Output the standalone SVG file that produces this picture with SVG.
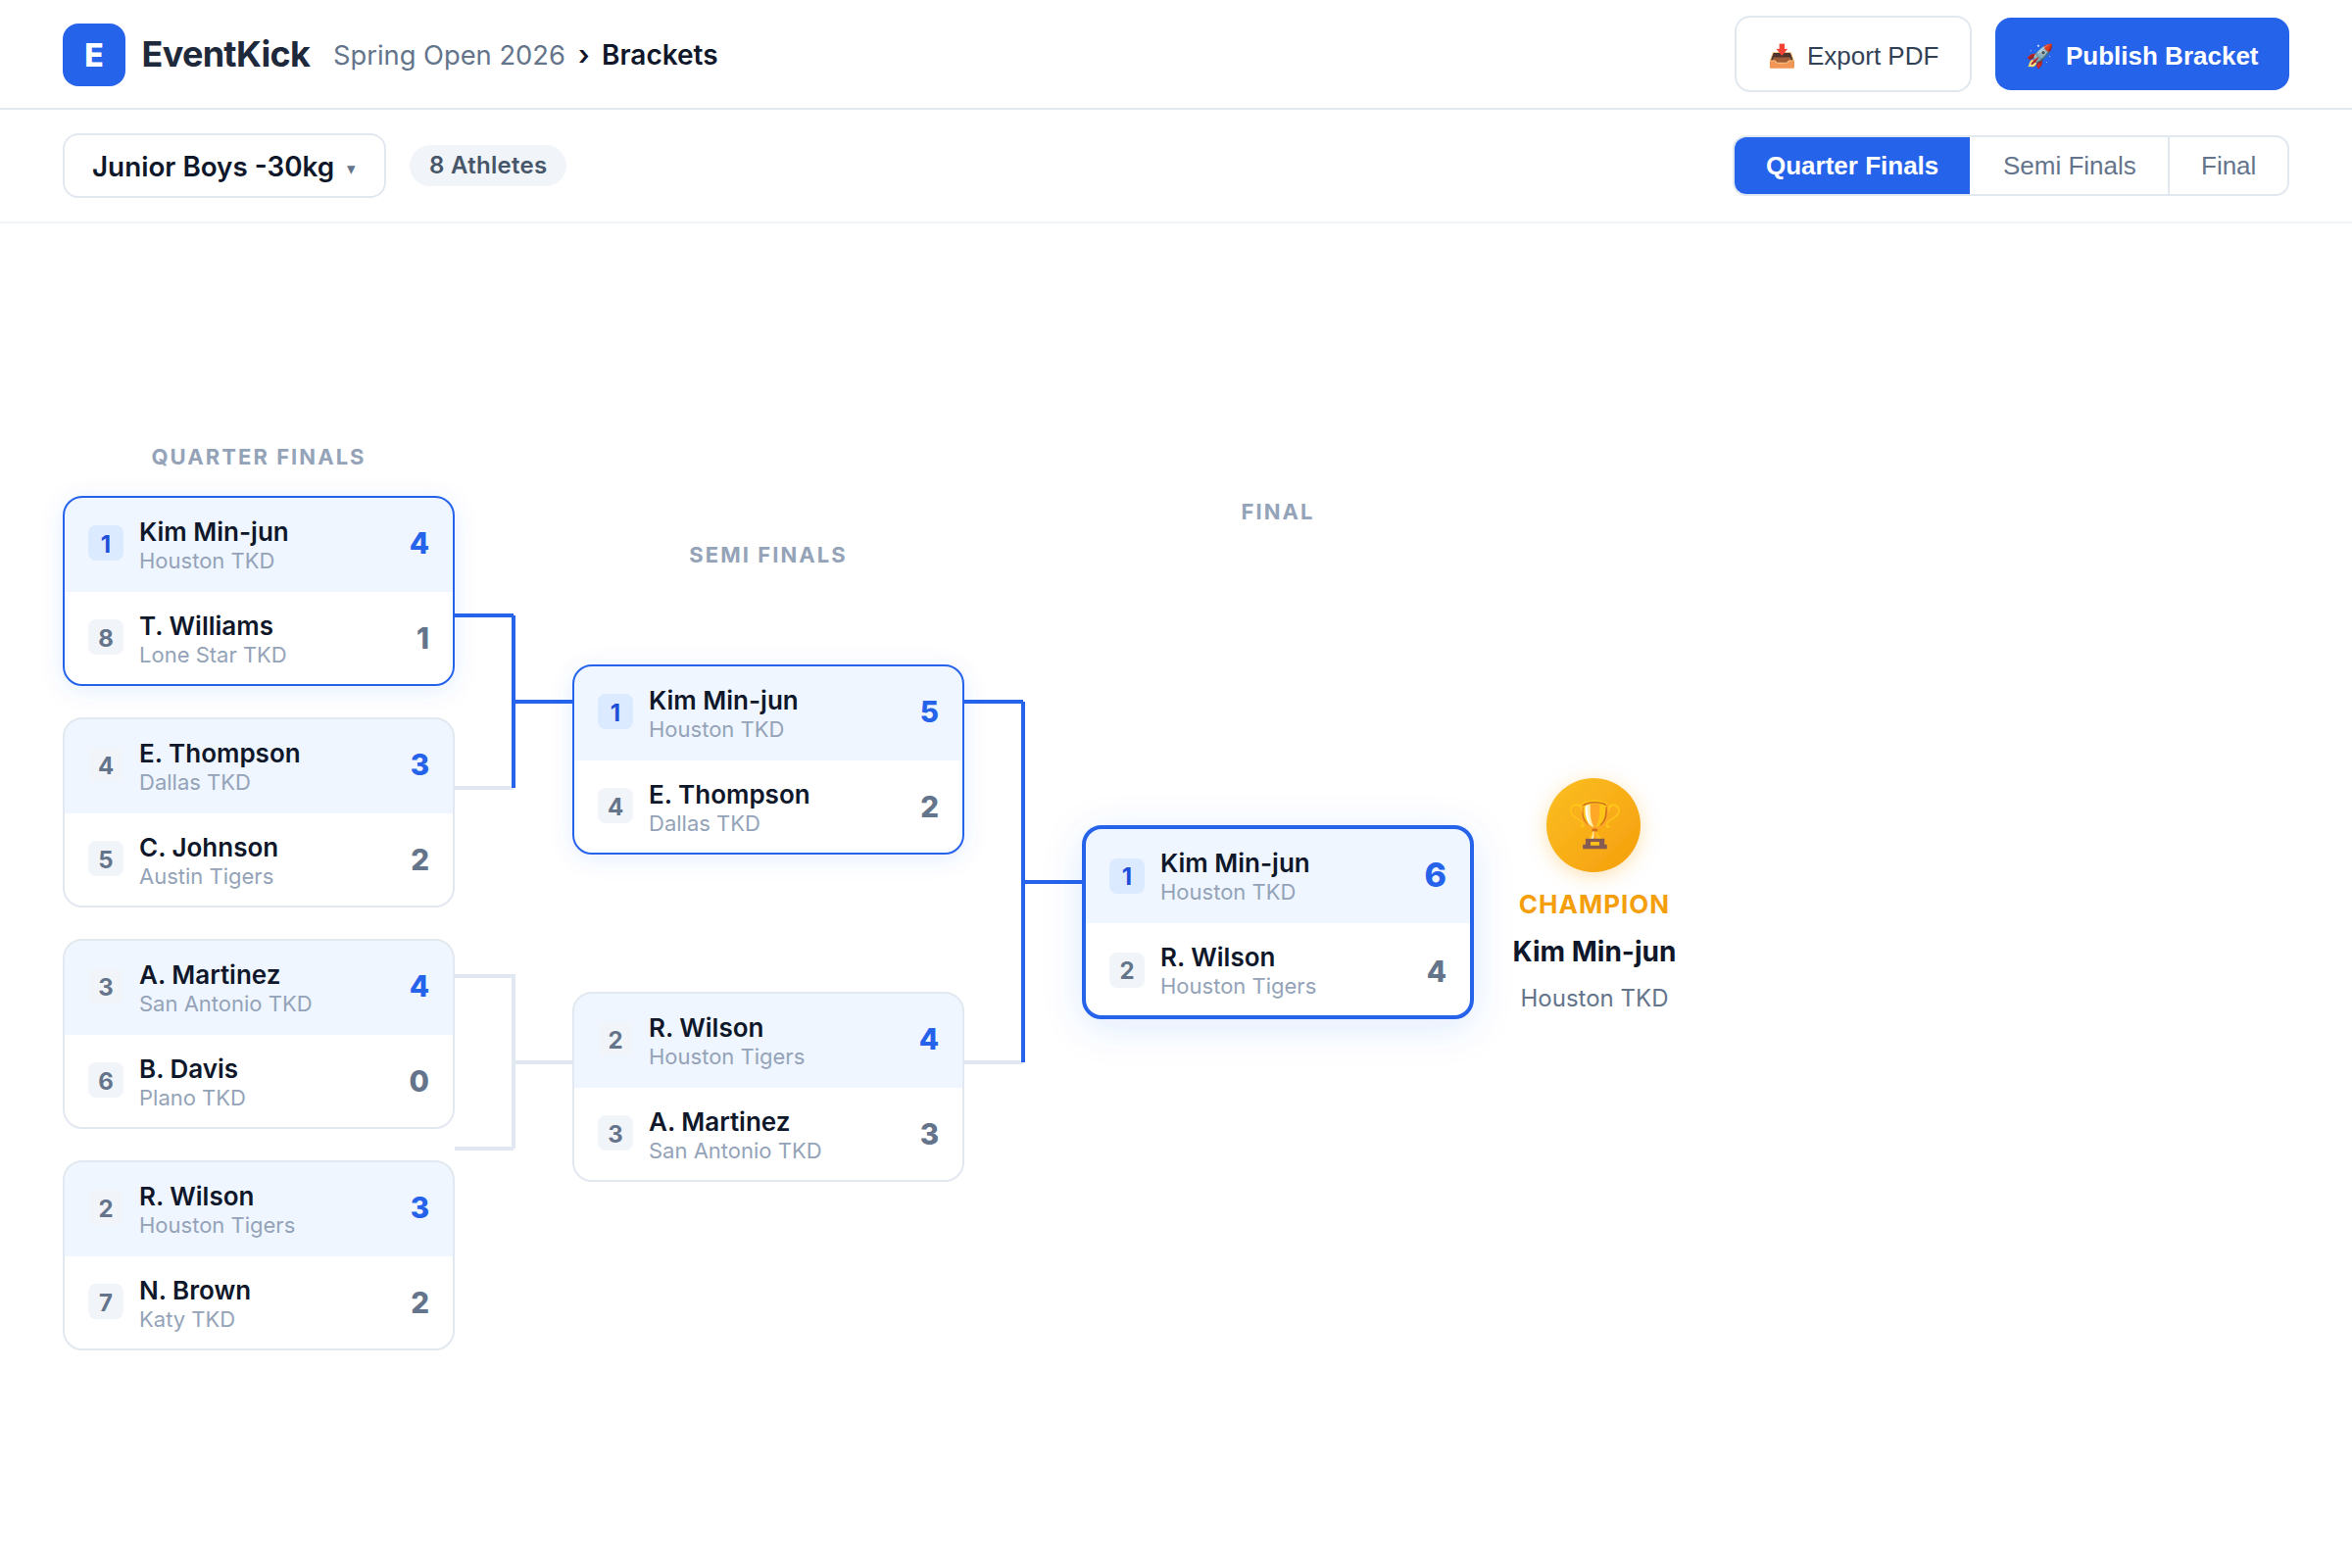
<svg xmlns="http://www.w3.org/2000/svg" width="2400" height="1600" viewBox="0 0 2400 1600">
<style>
text{font-family:"Inter","Liberation Sans",sans-serif}
.btn{font-family:"Liberation Sans",Arial,sans-serif;font-size:26px}
.name{font-size:26px;font-weight:600;fill:#0f172a}
.club{font-size:22px;fill:#94a3b8}
.seed{font-size:24px;font-weight:700;text-anchor:middle;fill:#64748b}
.seed.w{fill:#1d4ed8}
.score{font-size:29.5px;font-weight:800;text-anchor:end;fill:#64748b}
.score.w{fill:#2563eb}
.round{font-size:22px;font-weight:700;letter-spacing:2.05px;text-anchor:middle;fill:#94a3b8}
.bbg{fill:#f1f5f9}
.bbg.w{fill:#dbeafe}
.row1{fill:#eff6ff}
.cardbg{fill:#fff}
.edge{fill:none;stroke:#e2e8f0;stroke-width:2}
.edge.on{stroke:#2563eb}
.edge.fin{stroke:#2563eb;stroke-width:4}
.grey{fill:none;stroke:#e2e8f0;stroke-width:4}
.blue{fill:none;stroke:#2563eb;stroke-width:4}
</style>
<defs>
<filter id="sh" x="-20%" y="-30%" width="140%" height="160%"><feDropShadow dx="0" dy="4" stdDeviation="12" flood-color="#2563eb" flood-opacity="0.12"/></filter>
<filter id="shf" x="-25%" y="-40%" width="150%" height="180%"><feDropShadow dx="0" dy="8" stdDeviation="20" flood-color="#2563eb" flood-opacity="0.15"/></filter>
<filter id="shc" x="-50%" y="-50%" width="200%" height="200%"><feDropShadow dx="0" dy="4" stdDeviation="10" flood-color="#f59e0b" flood-opacity="0.3"/></filter>
<linearGradient id="gold" x1="0" y1="0" x2="1" y2="1"><stop offset="0" stop-color="#fbbf24"/><stop offset="1" stop-color="#f59e0b"/></linearGradient>
</defs>
<rect width="2400" height="1600" fill="#fff"/>

<g id="header">
<rect y="110" width="2400" height="2" fill="#e2e8f0"/>
<rect y="226" width="2400" height="2" fill="#f1f5f9"/>
<rect x="64" y="24" width="64" height="64" rx="16" fill="#2563eb"/>
<text x="96" y="68" font-size="32" font-weight="800" fill="#fff" text-anchor="middle">E</text>
<text x="144.5" y="68" font-size="36" font-weight="700" letter-spacing="-0.7" fill="#1e293b">EventKick</text>
<text x="340" y="66" font-size="27.3" fill="#64748b">Spring Open 2026</text>
<text x="590" y="66" font-size="28" font-weight="600" fill="#0f172a">›</text>
<text x="614" y="66" font-size="28" font-weight="600" fill="#0f172a">Brackets</text>
</g>
<g id="btn-export">
<rect x="1771" y="17" width="240" height="76" rx="15" fill="#fff" stroke="#e2e8f0" stroke-width="2"/>
<text x="1818" y="65" font-size="23" text-anchor="middle">📥</text>
<text class="btn" x="1844" y="66" fill="#334155">Export PDF</text>
</g>
<g id="btn-publish">
<rect x="2036" y="18" width="300" height="74" rx="16" fill="#2563eb"/>
<text x="2081" y="65" font-size="23" text-anchor="middle">🚀</text>
<text class="btn" x="2108" y="66" fill="#fff" font-weight="700">Publish Bracket</text>
</g>
<g id="division-select">
<rect x="65" y="137" width="328" height="64" rx="15" fill="#fff" stroke="#e2e8f0" stroke-width="2"/>
<text x="94" y="180" font-size="27.8" font-weight="600" fill="#0f172a">Junior Boys -30kg</text>
<text x="353.5" y="178" font-size="17" fill="#64748b">▾</text>
</g>
<g id="athlete-count">
<rect x="418" y="148" width="160" height="42" rx="21" fill="#f1f5f9"/>
<text x="438" y="177" font-size="24" font-weight="600" letter-spacing="0.3" fill="#475569">8 Athletes</text>
</g>
<g id="round-tabs">
<rect x="1769" y="139" width="566" height="60" rx="13" fill="#fff" stroke="#e2e8f0" stroke-width="2"/>
<path d="M2010 140H1782a12 12 0 0 0-12 12v34a12 12 0 0 0 12 12H2010z" fill="#2563eb"/>
<rect x="2212" y="140" width="2" height="58" fill="#e2e8f0"/>
<text class="btn" x="1802" y="178" fill="#fff" font-weight="700">Quarter Finals</text>
<text class="btn" x="2044" y="178" fill="#64748b">Semi Finals</text>
<text class="btn" x="2246" y="178" fill="#64748b">Final</text>
</g>

<g id="round-labels">
<text class="round" x="264" y="474">QUARTER FINALS</text>
<text class="round" x="784" y="574">SEMI FINALS</text>
<text class="round" x="1304" y="530">FINAL</text>
</g>

<g id="connectors">
<path class="grey" d="M464 804H524"/>
<path class="blue" d="M464 628H524M524 628V804M526 716H584"/>
<path class="grey" d="M464 996H524V1172M464 1172H524M526 1084H584"/>
<path class="grey" d="M984 1084H1044"/>
<path class="blue" d="M984 716H1044M1044 716V1084M1046 900H1104"/>
</g>

<g id="qf1" transform="translate(64,506)">
<rect x="1" y="1" width="398" height="192" rx="19" class="cardbg" filter="url(#sh)"/>
<path class="row1" d="M2 98V20A18 18 0 0 1 20 2H380A18 18 0 0 1 398 20V98Z"/>
<rect x="1" y="1" width="398" height="192" rx="19" class="edge on"/>
<rect class="bbg w" x="26" y="30" width="36" height="36" rx="8"/><text class="seed w" x="44" y="58">1</text>
<text class="name" x="78" y="46">Kim Min-jun</text><text class="club" x="78" y="74">Houston TKD</text><text class="score w" x="374" y="59">4</text>
<rect class="bbg" x="26" y="126" width="36" height="36" rx="8"/><text class="seed" x="44" y="154">8</text>
<text class="name" x="78" y="141.5">T. Williams</text><text class="club" x="78" y="170">Lone Star TKD</text><text class="score" x="374" y="155.5">1</text>
</g>
<g id="qf2" transform="translate(64,732)">
<rect x="1" y="1" width="398" height="192" rx="19" class="cardbg"/>
<path class="row1" d="M2 98V20A18 18 0 0 1 20 2H380A18 18 0 0 1 398 20V98Z"/>
<rect x="1" y="1" width="398" height="192" rx="19" class="edge"/>
<rect class="bbg" x="26" y="30" width="36" height="36" rx="8"/><text class="seed" x="44" y="58">4</text>
<text class="name" x="78" y="46">E. Thompson</text><text class="club" x="78" y="74">Dallas TKD</text><text class="score w" x="374" y="59">3</text>
<rect class="bbg" x="26" y="126" width="36" height="36" rx="8"/><text class="seed" x="44" y="154">5</text>
<text class="name" x="78" y="141.5">C. Johnson</text><text class="club" x="78" y="170">Austin Tigers</text><text class="score" x="374" y="155.5">2</text>
</g>
<g id="qf3" transform="translate(64,958)">
<rect x="1" y="1" width="398" height="192" rx="19" class="cardbg"/>
<path class="row1" d="M2 98V20A18 18 0 0 1 20 2H380A18 18 0 0 1 398 20V98Z"/>
<rect x="1" y="1" width="398" height="192" rx="19" class="edge"/>
<rect class="bbg" x="26" y="30" width="36" height="36" rx="8"/><text class="seed" x="44" y="58">3</text>
<text class="name" x="78" y="46">A. Martinez</text><text class="club" x="78" y="74">San Antonio TKD</text><text class="score w" x="374" y="59">4</text>
<rect class="bbg" x="26" y="126" width="36" height="36" rx="8"/><text class="seed" x="44" y="154">6</text>
<text class="name" x="78" y="141.5">B. Davis</text><text class="club" x="78" y="170">Plano TKD</text><text class="score" x="374" y="155.5">0</text>
</g>
<g id="qf4" transform="translate(64,1184)">
<rect x="1" y="1" width="398" height="192" rx="19" class="cardbg"/>
<path class="row1" d="M2 98V20A18 18 0 0 1 20 2H380A18 18 0 0 1 398 20V98Z"/>
<rect x="1" y="1" width="398" height="192" rx="19" class="edge"/>
<rect class="bbg" x="26" y="30" width="36" height="36" rx="8"/><text class="seed" x="44" y="58">2</text>
<text class="name" x="78" y="46">R. Wilson</text><text class="club" x="78" y="74">Houston Tigers</text><text class="score w" x="374" y="59">3</text>
<rect class="bbg" x="26" y="126" width="36" height="36" rx="8"/><text class="seed" x="44" y="154">7</text>
<text class="name" x="78" y="141.5">N. Brown</text><text class="club" x="78" y="170">Katy TKD</text><text class="score" x="374" y="155.5">2</text>
</g>
<g id="sf1" transform="translate(584,678)">
<rect x="1" y="1" width="398" height="192" rx="19" class="cardbg" filter="url(#sh)"/>
<path class="row1" d="M2 98V20A18 18 0 0 1 20 2H380A18 18 0 0 1 398 20V98Z"/>
<rect x="1" y="1" width="398" height="192" rx="19" class="edge on"/>
<rect class="bbg w" x="26" y="30" width="36" height="36" rx="8"/><text class="seed w" x="44" y="58">1</text>
<text class="name" x="78" y="46">Kim Min-jun</text><text class="club" x="78" y="74">Houston TKD</text><text class="score w" x="374" y="59">5</text>
<rect class="bbg" x="26" y="126" width="36" height="36" rx="8"/><text class="seed" x="44" y="154">4</text>
<text class="name" x="78" y="141.5">E. Thompson</text><text class="club" x="78" y="170">Dallas TKD</text><text class="score" x="374" y="155.5">2</text>
</g>
<g id="sf2" transform="translate(584,1012)">
<rect x="1" y="1" width="398" height="192" rx="19" class="cardbg"/>
<path class="row1" d="M2 98V20A18 18 0 0 1 20 2H380A18 18 0 0 1 398 20V98Z"/>
<rect x="1" y="1" width="398" height="192" rx="19" class="edge"/>
<rect class="bbg" x="26" y="30" width="36" height="36" rx="8"/><text class="seed" x="44" y="58">2</text>
<text class="name" x="78" y="46">R. Wilson</text><text class="club" x="78" y="74">Houston Tigers</text><text class="score w" x="374" y="59">4</text>
<rect class="bbg" x="26" y="126" width="36" height="36" rx="8"/><text class="seed" x="44" y="154">3</text>
<text class="name" x="78" y="141.5">A. Martinez</text><text class="club" x="78" y="170">San Antonio TKD</text><text class="score" x="374" y="155.5">3</text>
</g>
<g id="final" transform="translate(1104,842)">
<rect x="2" y="2" width="396" height="194" rx="18" class="cardbg" filter="url(#shf)"/>
<path class="row1" d="M4 100V20A16 16 0 0 1 20 4H380A16 16 0 0 1 396 20V100Z"/>
<rect x="2" y="2" width="396" height="194" rx="18" class="edge fin"/>
<rect class="bbg w" x="28" y="34" width="36" height="36" rx="8"/><text class="seed w" x="46" y="61">1</text>
<text class="name" x="80" y="47.5">Kim Min-jun</text><text class="club" x="80" y="75.5">Houston TKD</text><text class="score w" x="372" y="63" style="font-size:34px">6</text>
<rect class="bbg" x="28" y="130" width="36" height="36" rx="8"/><text class="seed" x="46" y="157">2</text>
<text class="name" x="80" y="144">R. Wilson</text><text class="club" x="80" y="172">Houston Tigers</text><text class="score" x="372" y="160">4</text>
</g>
<g id="champion">
<circle cx="1626" cy="842" r="48" fill="url(#gold)" filter="url(#shc)"/>
<text x="1627" y="857" font-size="46" text-anchor="middle">🏆</text>
<text x="1627" y="932" font-size="26" font-weight="700" letter-spacing="1" text-anchor="middle" fill="#f59e0b">CHAMPION</text>
<text x="1627" y="981" font-size="28" font-weight="700" text-anchor="middle" fill="#0f172a">Kim Min-jun</text>
<text x="1627" y="1027" font-size="24" text-anchor="middle" fill="#64748b">Houston TKD</text>
</g>
</svg>
